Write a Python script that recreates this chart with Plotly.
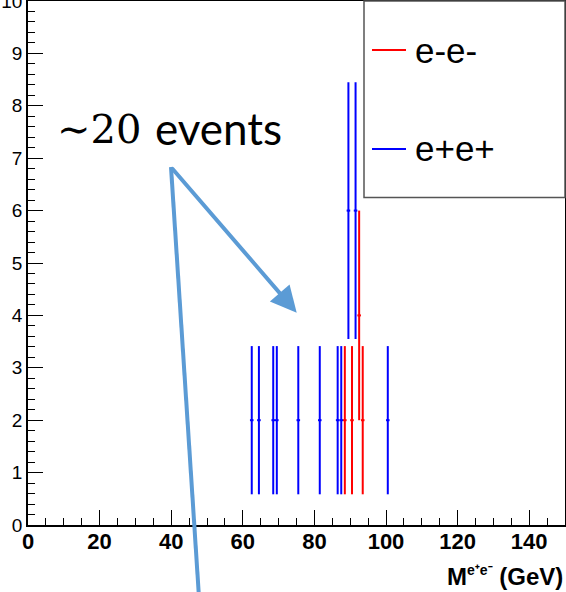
import numpy as np
import plotly.graph_objects as go

# Invariant-mass histogram, 1 GeV bins: bin centres and (weighted) bin contents
mass_em_em = [88.5, 90.5, 92.5, 93.5]
counts_em_em = [2, 2, 4, 2]
mass_ep_ep = [62.5, 64.5, 68.5, 69.5, 75.5, 81.5, 86.5, 87.5, 89.5, 91.5, 100.5]
counts_ep_ep = [2, 2, 2, 2, 2, 2, 2, 2, 6, 6, 2]
bin_width = 1.0

series_names = ["e-e-", "e+e+"]
series_colors = ["#ff0000", "#0000ff"]

x_tick_values = [0, 20, 40, 60, 80, 100, 120, 140]
y_tick_values = list(range(0, 11))

note_number = "\u223c20"
note_word = "events"
arrow_color = "#5b9bd5"

# page / frame geometry in pixels
W, H = 566, 592
L, R, T, B = 28, 565, 1, 525


def fx(xp):
    return (xp - L) / (R - L)


def fy(yp):
    return (B - yp) / (B - T)


fig = go.Figure()

for xs, cs, name, col in [
    (mass_em_em, counts_em_em, series_names[0], series_colors[0]),
    (mass_ep_ep, counts_ep_ep, series_names[1], series_colors[1]),
]:
    cs = np.asarray(cs, dtype=float)
    fig.add_trace(go.Scatter(
        x=xs, y=cs, mode="markers", name=name, showlegend=False,
        marker=dict(color=col, size=2),
        error_y=dict(type="data", array=np.sqrt(cs), color=col, thickness=2, width=0),
        error_x=dict(type="data", array=[bin_width / 2] * len(xs), color=col, thickness=2, width=0),
    ))

fig.update_layout(
    width=W, height=H,
    margin=dict(l=L, r=W - R, t=T, b=H - B, pad=0, autoexpand=False),
    plot_bgcolor="white", paper_bgcolor="white",
    font=dict(family="Liberation Sans, Arial, sans-serif", color="black"),
)

fig.update_xaxes(
    range=[0, 150], tickvals=x_tick_values, showgrid=False, zeroline=False,
    showline=True, linecolor="black", linewidth=1.5, mirror=True, automargin=False,
    ticks="inside", ticklen=15, tickwidth=1.2, tickcolor="black",
    minor=dict(ticks="inside", ticklen=7, tickwidth=1.2, tickcolor="black", dtick=5, showgrid=False),
    tickfont=dict(size=22, weight="bold", family="Liberation Sans, Arial, sans-serif"),
    ticklabelstandoff=-4, ticklabeloverflow="allow",
)
fig.update_yaxes(
    range=[0, 10], tickvals=y_tick_values, showgrid=False, zeroline=False,
    showline=True, linecolor="black", linewidth=1.5, mirror=True, automargin=False,
    ticks="inside", ticklen=15, tickwidth=1.2, tickcolor="black",
    minor=dict(ticks="inside", ticklen=7, tickwidth=1.2, tickcolor="black", dtick=0.2, showgrid=False),
    tickfont=dict(size=19, family="Liberation Sans, Arial, sans-serif"),
    ticklabeloverflow="allow",
)

shapes = []
# legend box
shapes.append(dict(type="rect", xref="paper", yref="paper",
                   x0=fx(364), x1=1.0, y0=fy(197.5), y1=fy(1),
                   line=dict(color="#555555", width=1.5), fillcolor="white", layer="above"))
# legend line samples
for yp, col in [(50, series_colors[0]), (149, series_colors[1])]:
    shapes.append(dict(type="line", xref="paper", yref="paper",
                       x0=fx(372), x1=fx(406), y0=fy(yp), y1=fy(yp),
                       line=dict(color=col, width=2), layer="above"))
# pointer line running off the bottom
shapes.append(dict(type="line", xref="paper", yref="paper",
                   x0=fx(171), y0=fy(167), x1=fx(199.5), y1=fy(605),
                   line=dict(color=arrow_color, width=4), layer="above"))
fig.update_layout(shapes=shapes)

annotations = []
for yp, label in [(50, series_names[0]), (148, series_names[1])]:
    annotations.append(dict(xref="paper", yref="paper", x=fx(413), y=fy(yp),
                            xanchor="left", yanchor="middle", text=label, showarrow=False,
                            font=dict(size=35, family="Liberation Sans, Arial, sans-serif", color="black")))
# axis title
annotations.append(dict(xref="paper", yref="paper", x=1.0, y=fy(576),
                        xanchor="right", yanchor="middle", showarrow=False,
                        text="<b>M<sup><span style='font-size:14px'>e\u207ae\u207b</span></sup> (GeV)</b>",
                        font=dict(size=24, family="Liberation Sans, Arial, sans-serif", color="black")))
# note text
annotations.append(dict(xref="paper", yref="paper", x=fx(55), y=fy(129),
                        xanchor="left", yanchor="middle", showarrow=False, text=note_number,
                        font=dict(size=40, family="DejaVu Serif, serif", color="black")))
annotations.append(dict(xref="paper", yref="paper", x=fx(153), y=fy(128),
                        xanchor="left", yanchor="middle", showarrow=False, text=note_word,
                        font=dict(size=44, family="Lato, sans-serif", color="black")))
# arrow towards the peak
annotations.append(dict(xref="paper", yref="paper", x=fx(296.7), y=fy(312.7),
                        ax=-126, ay=-146, text="", showarrow=True,
                        arrowhead=2, arrowsize=1.3, arrowwidth=4, arrowcolor=arrow_color, standoff=0))
fig.update_layout(annotations=annotations)

fig.write_html("out.html")
